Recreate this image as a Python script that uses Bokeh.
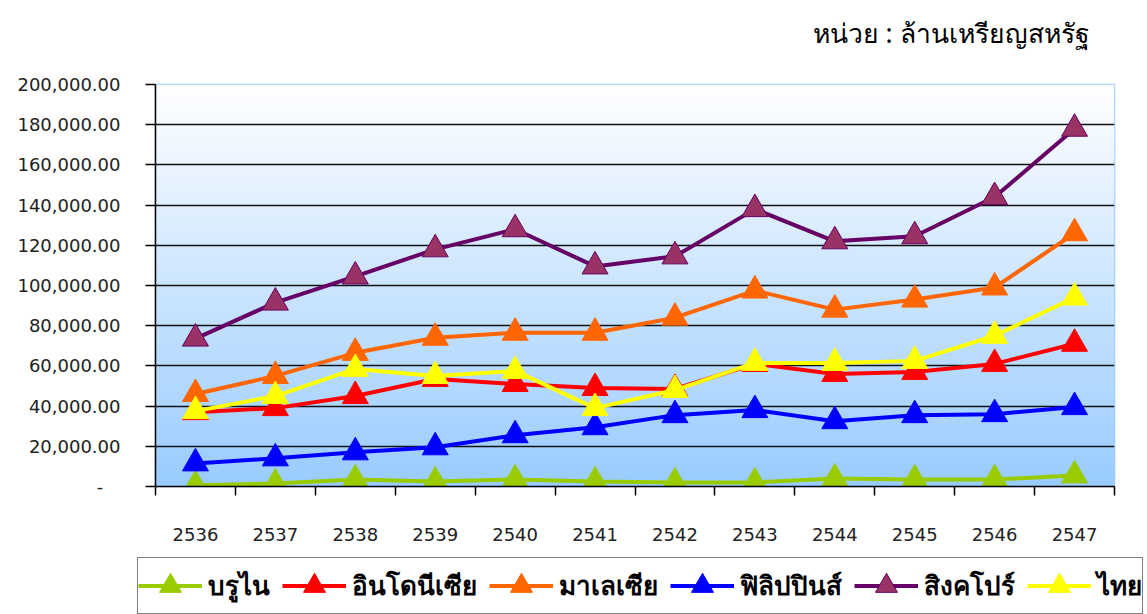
import numpy as np
from bokeh.plotting import figure
from bokeh.layouts import column, row
from bokeh.models import Range1d, FixedTicker, Legend, LegendItem, Title
from bokeh.embed import file_html
from bokeh.resources import INLINE

years = ["2536", "2537", "2538", "2539", "2540", "2541",
         "2542", "2543", "2544", "2545", "2546", "2547"]

brunei      = [600, 1500, 3500, 2500, 3500, 2500, 2000, 2000, 4000, 3500, 3500, 5500]
indonesia   = [37000, 39000, 45000, 53500, 51000, 49000, 48500, 61000, 56000, 57000, 61000, 71000]
malaysia    = [46000, 55000, 66500, 74000, 76500, 76500, 84000, 97500, 88000, 93000, 99000, 126000]
philippines = [11500, 14000, 17000, 19500, 25500, 29500, 35500, 38000, 32500, 35500, 36000, 39500]
singapore   = [73600, 91500, 104500, 118000, 128000, 109500, 114500, 138000, 122000, 124500, 144000, 178000]
thailand    = [37500, 45000, 58500, 55000, 57500, 39000, 48000, 61500, 61500, 62500, 75000, 94000]

series_names = ["บรูไน", "อินโดนีเซีย", "มาเลเซีย", "ฟิลิปปินส์", "สิงคโปร์", "ไทย"]
series_values = [brunei, indonesia, malaysia, philippines, singapore, thailand]
line_colors = ["#99cc00", "#ff0000", "#ff6600", "#0000ff", "#660066", "#ffff00"]
fill_colors = ["#99cc00", "#ff0000", "#ff6600", "#0000ff", "#993366", "#ffff00"]

y_ticks = list(range(0, 200001, 20000))
unit_text = "หน่วย : ล้านเหรียญสหรัฐ"

n = len(years)
xs = [i + 0.5 for i in range(n)]

W = 1147
MAIN_H = 556
LEG_H = 614 - MAIN_H

p = figure(width=W, height=MAIN_H, output_backend="svg", toolbar_location=None,
           x_range=Range1d(0, n), y_range=Range1d(0, 200000),
           min_border_left=155, min_border_right=33, min_border_top=84,
           min_border_bottom=MAIN_H - 486)
p.background_fill_color = "white"
p.border_fill_color = "white"
p.outline_line_color = "#99ccff"
p.outline_line_width = 1.5

# vertical gradient background (white -> light blue)
N = 200
img = np.zeros((N, 1), dtype=np.uint32)
view = img.view(dtype=np.uint8).reshape((N, 1, 4))
t = np.linspace(0, 1, N)  # 0 bottom, 1 top
bottom_c = np.array([153, 204, 255])
top_c = np.array([255, 255, 255])
for i in range(N):
    c = bottom_c + (top_c - bottom_c) * t[i]
    view[i, 0, 0] = int(c[0]); view[i, 0, 1] = int(c[1]); view[i, 0, 2] = int(c[2]); view[i, 0, 3] = 255
p.image_rgba(image=[img], x=0, y=0, dw=n, dh=200000, level="image")

# grid
p.xgrid.visible = False
p.ygrid.ticker = FixedTicker(ticks=y_ticks[1:-1])
p.ygrid.grid_line_color = "#111111"
p.ygrid.grid_line_width = 1.5

# axes
p.xaxis.ticker = FixedTicker(ticks=xs, minor_ticks=list(range(0, n + 1)))
p.xaxis.major_label_overrides = {x: y for x, y in zip(xs, years)}
p.xaxis.major_tick_line_color = None
p.xaxis.major_tick_out = 0
p.xaxis.major_tick_in = 0
p.xaxis.minor_tick_line_color = "black"
p.xaxis.minor_tick_line_width = 1.5
p.xaxis.minor_tick_out = 9
p.xaxis.minor_tick_in = 0
p.xaxis.axis_line_color = "black"
p.xaxis.axis_line_width = 1.5
p.xaxis.major_label_standoff = 32
p.xaxis.major_label_text_font = "DejaVu Sans"
p.xaxis.major_label_text_font_size = "18px"
p.xaxis.major_label_text_color = "#222222"

p.yaxis.ticker = FixedTicker(ticks=y_ticks)
overrides = {v: f"{v:,.2f}" for v in y_ticks}
overrides[0] = "-\u00a0\u00a0\u00a0"
p.yaxis.major_label_overrides = overrides
p.yaxis.major_tick_out = 10
p.yaxis.major_tick_in = 0
p.yaxis.major_tick_line_color = "black"
p.yaxis.major_tick_line_width = 1.5
p.yaxis.minor_tick_line_color = None
p.yaxis.axis_line_color = "black"
p.yaxis.axis_line_width = 1.5
p.yaxis.major_label_standoff = 25
p.yaxis.major_label_text_font = "DejaVu Sans"
p.yaxis.major_label_text_font_size = "18px"
p.yaxis.major_label_text_color = "#222222"

for name, vals, lc, fc in zip(series_names, series_values, line_colors, fill_colors):
    p.line(xs, vals, line_color=lc, line_width=4)
    p.scatter(xs, vals, marker="triangle", size=26, fill_color=fc, line_color=lc, line_width=1)

# spacer title (closest to the frame) then the unit title above it
spacer = Title(text="\u00a0", text_font_size="10px", standoff=21)
p.add_layout(spacer, "above")
title = Title(text=unit_text, align="right", text_font="Noto Sans",
              text_font_size="26.5px", text_font_style="normal",
              text_color="black", standoff=0, offset=25)
p.add_layout(title, "above")

# legend strip (separate figure whose frame fills its canvas; data lies outside its ranges)
lf = figure(width=W, height=LEG_H, output_backend="svg", toolbar_location=None,
            x_range=Range1d(0, n), y_range=Range1d(-2e6, -1e6),
            min_border=0, min_border_left=0, min_border_right=0,
            min_border_top=0, min_border_bottom=0)
lf.axis.visible = False
lf.grid.visible = False
lf.outline_line_color = None
lf.background_fill_color = "white"
lf.border_fill_color = "white"

items = []
for name, vals, lc, fc in zip(series_names, series_values, line_colors, fill_colors):
    lr = lf.line(xs, vals, line_color=lc, line_width=4)
    sr = lf.scatter(xs, vals, marker="triangle", size=26, fill_color=fc, line_color=lc, line_width=1)
    items.append(LegendItem(label=name, renderers=[lr, sr]))

legend = Legend(items=items, orientation="horizontal", location=(137, 0),
                glyph_width=64, glyph_height=55, label_standoff=6, spacing=12,
                padding=0, margin=0,
                label_text_font="Noto Sans", label_text_font_style="bold",
                label_text_font_size="26px", label_text_color="black",
                border_line_color="black", border_line_width=1.5,
                background_fill_color="white", background_fill_alpha=1.0)
lf.add_layout(legend)

layout = column(p, row(lf, spacing=0), spacing=0)
open("out.html", "w").write(file_html(layout, INLINE))
